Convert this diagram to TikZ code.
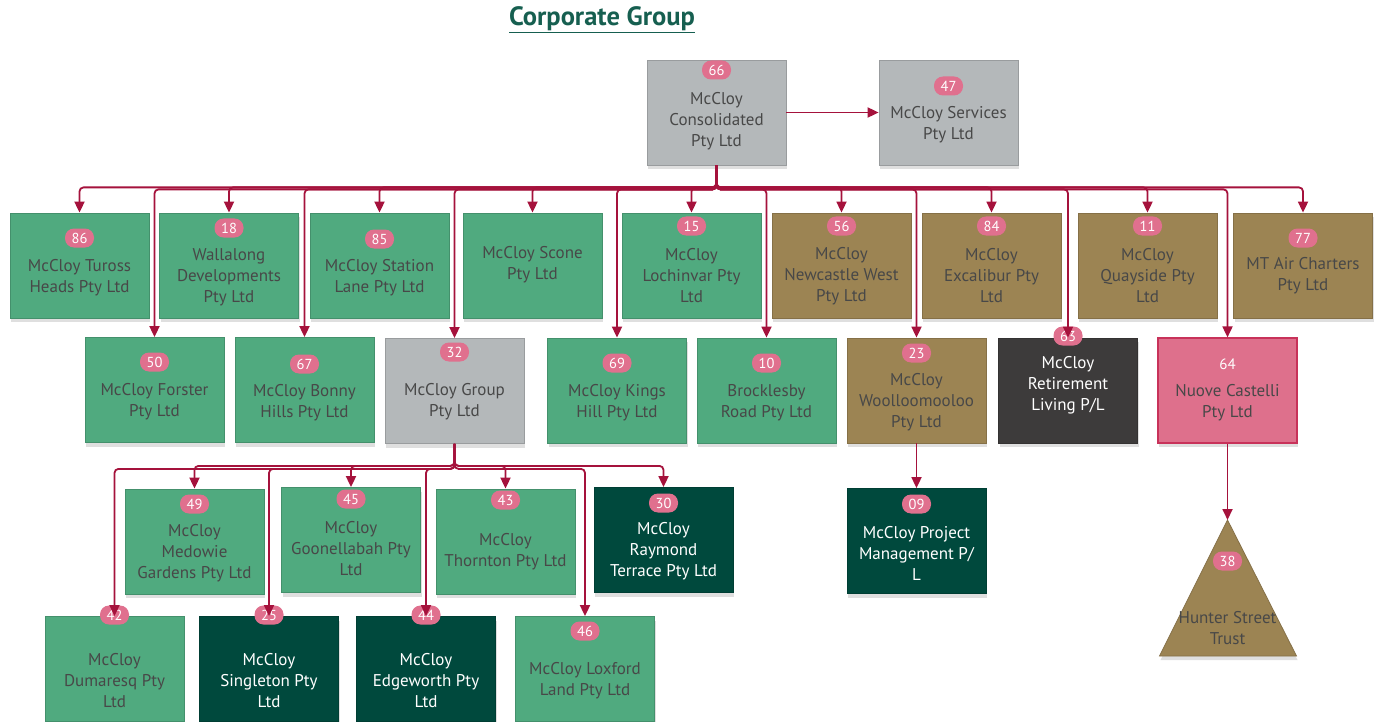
\documentclass[tikz,border=0pt]{standalone}
\usepackage{fontspec}
\setmainfont{PT Sans}
\usetikzlibrary{arrows.meta,shadows}
\definecolor{cgreen}{RGB}{80,170,127}
\definecolor{colive}{RGB}{156,132,83}
\definecolor{cgrey}{RGB}{180,184,186}
\definecolor{cdkgreen}{RGB}{0,73,61}
\definecolor{cdkgrey}{RGB}{61,59,59}
\definecolor{cpink}{RGB}{222,112,140}
\definecolor{cpinkedge}{RGB}{200,50,90}
\definecolor{cbadge}{RGB}{224,112,142}
\definecolor{carrow}{RGB}{165,18,60}
\definecolor{ctitle}{RGB}{22,95,80}
\definecolor{ctext}{RGB}{72,72,72}
\newcommand\mkent[9]{%
  \node[entbox,#4] (#1) at (#2,#3) {};
  \node[badge] (#1-b) at (#2,#5) {#6};
  \node[enttxt,text=#9] (#1-t) at (#2,#7) {#8};
}
\begin{document}
\begin{tikzpicture}[x=1pt,y=-1pt,
  entbox/.style={minimum width=139pt,minimum height=105pt,line width=0.8pt,inner sep=0pt,
    drop shadow={shadow xshift=1pt,shadow yshift=-4pt,opacity=0.25}},
  gbox/.style={fill=cgreen,draw=cgreen!85!black},
  obox/.style={fill=colive,draw=colive!85!black},
  gybox/.style={fill=cgrey,draw=cgrey!85!black},
  dgbox/.style={fill=cdkgreen,draw=cdkgreen!85!black},
  dkbox/.style={fill=cdkgrey,draw=cdkgrey!85!black},
  pbox/.style={fill=cpink,draw=cpinkedge,line width=1.2pt},
  enttxt/.style={align=center,inner sep=0pt,font=\fontsize{17}{21}\selectfont},
  badge/.style={fill=cbadge,text=white,rounded corners=9pt,minimum width=29pt,minimum height=19pt,
    inner sep=1pt,font=\fontsize{14.5}{14.5}\selectfont},
  conn/.style={draw=carrow,line width=1.8pt,rounded corners=4pt,-{Triangle[length=11pt,width=10pt]}}]
\useasboundingbox (0,0) rectangle (1381,722);
\fill[white] (0,0) rectangle (1381,722);

\node[font=\bfseries\fontsize{26.5}{30}\selectfont,text=ctitle,inner sep=0pt] (title) at (602,20) {\underline{Corporate Group}};

% top
\mkent{cons}{716.5}{112.5}{gybox}{70}{66}{121}{McCloy\\Consolidated\\Pty Ltd}{ctext}
\mkent{serv}{948.5}{112.5}{gybox}{86}{47}{124.5}{McCloy Services\\Pty Ltd}{ctext}

% row 1
\mkent{tur}{79.5}{265.5}{gbox}{238}{86}{277.5}{McCloy Tuross\\Heads Pty Ltd}{ctext}
\mkent{wal}{229}{265.5}{gbox}{228}{18}{277}{Wallalong\\Developments\\Pty Ltd}{ctext}
\mkent{sta}{379.5}{265.5}{gbox}{239}{85}{277.5}{McCloy Station\\Lane Pty Ltd}{ctext}
\node[entbox,gbox] (sco) at (532.5,265.5) {};
\node[enttxt,text=ctext] (sco-t) at (532.5,264.5) {McCloy Scone\\Pty Ltd};
\mkent{loc}{691.5}{265.5}{gbox}{226}{15}{276}{McCloy\\Lochinvar Pty\\Ltd}{ctext}
\mkent{new}{841.5}{265.5}{obox}{226}{56}{276}{McCloy\\Newcastle West\\Pty Ltd}{ctext}
\mkent{exc}{991.5}{265.5}{obox}{226}{84}{276}{McCloy\\Excalibur Pty\\Ltd}{ctext}
\mkent{qua}{1147.5}{265.5}{obox}{226}{11}{276}{McCloy\\Quayside Pty\\Ltd}{ctext}
\mkent{mta}{1303}{265.5}{obox}{238}{77}{275.5}{MT Air Charters\\Pty Ltd}{ctext}

% row 2
\mkent{for}{154.5}{390}{gbox}{362}{50}{401.5}{McCloy Forster\\Pty Ltd}{ctext}
\mkent{bon}{304.5}{390}{gbox}{364}{67}{402.5}{McCloy Bonny\\Hills Pty Ltd}{ctext}
\mkent{grp}{454.5}{391}{gybox}{352}{32}{402}{McCloy Group\\Pty Ltd}{ctext}
\mkent{kin}{617}{390.5}{gbox}{363}{69}{402.5}{McCloy Kings\\Hill Pty Ltd}{ctext}
\mkent{bro}{766.5}{390.5}{gbox}{363}{10}{402.5}{Brocklesby\\Road Pty Ltd}{ctext}
\mkent{woo}{916.5}{390.5}{obox}{353}{23}{402}{McCloy\\Woolloomooloo\\Pty Ltd}{ctext}
\mkent{ret}{1068}{390.5}{dkbox}{336}{63}{385}{McCloy\\Retirement\\Living P/L}{white}
\node[entbox,pbox] (nuo) at (1227.5,390.5) {};
\node[enttxt,text=white,font=\fontsize{15}{15}\selectfont] (nuo-b) at (1227.5,364) {64};
\node[enttxt,text=ctext] (nuo-t) at (1227.5,402.5) {Nuove Castelli\\Pty Ltd};

% row 3
\mkent{med}{194.5}{541.5}{gbox}{504}{49}{553}{McCloy\\Medowie\\Gardens Pty Ltd}{ctext}
\mkent{goo}{351}{540}{gbox}{499}{45}{549}{McCloy\\Goonellabah Pty\\Ltd}{ctext}
\mkent{tho}{505.5}{541.5}{gbox}{500}{43}{551.5}{McCloy\\Thornton Pty Ltd}{ctext}
\mkent{ray}{663.5}{540}{dgbox}{503}{30}{551}{McCloy\\Raymond\\Terrace Pty Ltd}{white}
\mkent{pm}{916.5}{541}{dgbox}{504}{09}{553}{McCloy Project\\Management P/\\L}{white}

% row 4
\mkent{dum}{114.5}{669}{gbox}{615}{42}{681}{McCloy\\Dumaresq Pty\\Ltd}{ctext}
\mkent{sin}{269}{669}{dgbox}{615}{25}{681}{McCloy\\Singleton Pty\\Ltd}{white}
\mkent{edg}{426}{669}{dgbox}{615}{44}{681}{McCloy\\Edgeworth Pty\\Ltd}{white}
\mkent{lox}{585}{669}{gbox}{631}{46}{680.5}{McCloy Loxford\\Land Pty Ltd}{ctext}

% trust triangle
\path[fill=colive,draw=colive!85!black,line width=0.8pt,
  drop shadow={shadow xshift=1pt,shadow yshift=-4pt,opacity=0.25}]
  (1227.5,520) -- (1296.5,656) -- (1159.5,656) -- cycle;
\coordinate (hst) at (1227.5,520);
\node[badge] (hst-b) at (1227.5,561) {38};
\node[enttxt,text=ctext] (hst-t) at (1227.5,628) {Hunter Street\\Trust};

% connectors
\draw[conn] (cons.east) -- (serv.west);
\foreach \c in {tur,wal,sta,sco,loc,new,exc,qua,mta}
  \draw[conn] (cons.south) -- ++(0,22) -| (\c.north);
\foreach \c in {for,bon,grp,kin,bro,woo,ret,nuo}
  \draw[conn] (cons.south) -- ++(0,24) -| (\c.north);
\foreach \c in {med,goo,tho,ray}
  \draw[conn] (grp.south) -- ++(0,22) -| (\c.north);
\foreach \c in {dum,sin,edg,lox}
  \draw[conn] (grp.south) -- ++(0,25) -| (\c.north);
\draw[conn] (woo.south) -- (pm.north);
\draw[conn] (nuo.south) -- (hst);
\end{tikzpicture}
\end{document}
